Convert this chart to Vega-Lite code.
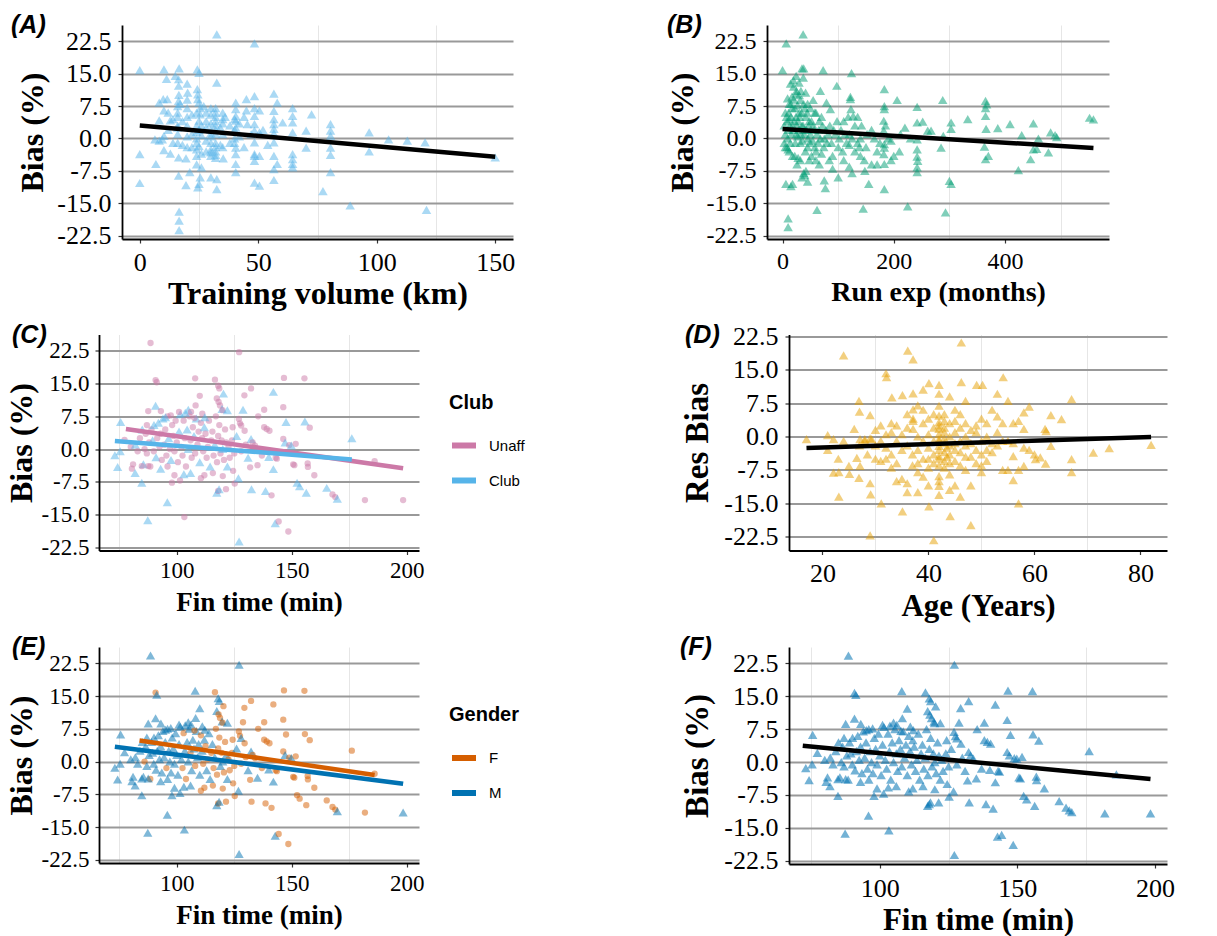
{
"$schema": "https://vega.github.io/schema/vega-lite/v6.json",
"background": "white",
"padding": {"left": 5, "top": 13, "right": 5, "bottom": 5},
"config": {
 "view": {"stroke": null},
 "font": "Liberation Serif",
 "axis": {"domainColor": "black", "domainWidth": 1.8, "tickColor": "#333333", "tickWidth": 1.2, "tickSize": 4, "labelColor": "black", "labelFont": "Liberation Serif", "titleFont": "Liberation Serif", "titleFontWeight": "bold", "titleColor": "black"},
 "title": {"font": "Liberation Sans", "fontStyle": "italic", "fontWeight": "bold", "fontSize": 25, "anchor": "start", "frame": "group", "color": "black", "offset": 0},
 "legend": {"titleFont": "Liberation Sans", "titleFontSize": 20, "titleFontWeight": "bold", "titleColor": "black", "labelFont": "Liberation Sans", "labelFontSize": 15, "labelColor": "black", "symbolType": "stroke", "symbolStrokeWidth": 6, "symbolSize": 576, "symbolOpacity": 1, "rowPadding": 8, "titlePadding": 18, "labelOffset": 10, "orient": "none"}
},
"datasets": {
"a": [{"x":32.5,"y":24.1},{"x":48.4,"y":22},{"x":0,"y":15.8},{"x":10.2,"y":16},{"x":16.6,"y":16.2},{"x":11.3,"y":13.8},{"x":15,"y":14.5},{"x":16.4,"y":13.7},{"x":24.3,"y":16},{"x":25,"y":15.2},{"x":32.5,"y":12.9},{"x":20,"y":12.7},{"x":20.2,"y":10.6},{"x":16.4,"y":12.2},{"x":16.5,"y":10.1},{"x":16.4,"y":8.7},{"x":24.3,"y":11.4},{"x":24.5,"y":10.2},{"x":24.5,"y":9.1},{"x":25,"y":8.3},{"x":25.5,"y":7},{"x":25.5,"y":5.6},{"x":25,"y":4.1},{"x":8.2,"y":8.3},{"x":9.9,"y":9.1},{"x":11.6,"y":9.1},{"x":10.2,"y":6.5},{"x":8.2,"y":4.2},{"x":12.9,"y":4.2},{"x":6.4,"y":-0.2},{"x":10.2,"y":0.6},{"x":9.5,"y":-0.2},{"x":8.2,"y":-0.5},{"x":10.2,"y":-2.7},{"x":12.9,"y":-3.5},{"x":0,"y":-3.6},{"x":6.8,"y":-5.9},{"x":0,"y":-10.3},{"x":16.4,"y":-4.4},{"x":16.4,"y":-8.6},{"x":16.6,"y":-16.9},{"x":16.6,"y":-19},{"x":16.6,"y":-21.2},{"x":19.5,"y":-4.6},{"x":21.1,"y":-7.8},{"x":19.5,"y":-10.8},{"x":24.5,"y":-11.3},{"x":25,"y":-10.5},{"x":25.5,"y":-9},{"x":26,"y":-6.7},{"x":30,"y":-9},{"x":32.5,"y":-9.4},{"x":32.5,"y":-11.7},{"x":35.2,"y":-4.6},{"x":40.5,"y":8.3},{"x":40.5,"y":6.8},{"x":40.5,"y":5.2},{"x":40.5,"y":4.1},{"x":40.5,"y":2.5},{"x":40.5,"y":-2.1},{"x":40.5,"y":-3.6},{"x":40.5,"y":-5.9},{"x":40.5,"y":-7.8},{"x":45,"y":9.1},{"x":48.4,"y":9.8},{"x":45,"y":6.5},{"x":48.4,"y":7},{"x":48.4,"y":5.2},{"x":48.4,"y":3.3},{"x":48.4,"y":1.8},{"x":48.4,"y":-0.9},{"x":48.4,"y":-3.6},{"x":48.4,"y":-4},{"x":48.4,"y":-5.2},{"x":45.4,"y":3.3},{"x":50.5,"y":6.5},{"x":50.5,"y":1.4},{"x":50.5,"y":-4},{"x":48.4,"y":-10.2},{"x":50.5,"y":-10.9},{"x":56.6,"y":10.4},{"x":58,"y":8.3},{"x":56.6,"y":6.4},{"x":56.6,"y":4.5},{"x":56.6,"y":3.3},{"x":56.6,"y":2.2},{"x":56.6,"y":1.2},{"x":56.6,"y":-0.9},{"x":56.6,"y":-4},{"x":56.6,"y":-7.1},{"x":56.6,"y":-9.6},{"x":58,"y":-5.9},{"x":60.3,"y":3.7},{"x":64.5,"y":7},{"x":64.5,"y":5.2},{"x":64.5,"y":3.7},{"x":64.5,"y":1.4},{"x":64.5,"y":-3.6},{"x":64.5,"y":-4.8},{"x":64.5,"y":-5.9},{"x":64.5,"y":-6.7},{"x":70.2,"y":1.8},{"x":72.5,"y":5.6},{"x":70.2,"y":-2.1},{"x":77.3,"y":-12.2},{"x":80.5,"y":3.3},{"x":80.5,"y":1.8},{"x":80.5,"y":0.6},{"x":80.5,"y":-2.1},{"x":80.5,"y":-3.8},{"x":80.5,"y":-7.8},{"x":88.8,"y":-15.5},{"x":96.8,"y":1.4},{"x":96.8,"y":-3},{"x":105,"y":-0.2},{"x":112.9,"y":-0.5},{"x":120.4,"y":-0.9},{"x":121,"y":-16.5},{"x":150,"y":-4.4},{"x":16,"y":5},{"x":16,"y":3},{"x":16,"y":1},{"x":16,"y":-1},{"x":16,"y":2.5},{"x":16,"y":6},{"x":16,"y":7.5},{"x":20,"y":7},{"x":20,"y":5},{"x":20,"y":3},{"x":20,"y":0.5},{"x":20,"y":-2},{"x":20,"y":9},{"x":24,"y":3},{"x":24,"y":1.5},{"x":24,"y":0},{"x":24,"y":-1},{"x":24,"y":-2.5},{"x":24,"y":-4},{"x":24,"y":6},{"x":25,"y":2},{"x":24,"y":-6},{"x":30,"y":5.5},{"x":30,"y":3.5},{"x":30,"y":2},{"x":30,"y":0.5},{"x":30,"y":-1},{"x":30,"y":-2.5},{"x":30,"y":-4},{"x":30,"y":7},{"x":32,"y":7},{"x":32,"y":5},{"x":32,"y":3},{"x":32,"y":1},{"x":32,"y":-1},{"x":32,"y":-3},{"x":32,"y":-4.5},{"x":32,"y":6},{"x":32,"y":4},{"x":32,"y":2},{"x":32,"y":-2},{"x":35,"y":6},{"x":35,"y":3.5},{"x":35,"y":1},{"x":35,"y":-2},{"x":35,"y":4.5},{"x":40,"y":4.5},{"x":40,"y":2},{"x":40,"y":0},{"x":40,"y":-1},{"x":28,"y":6},{"x":28,"y":2.5},{"x":28,"y":-3},{"x":28,"y":-0.5},{"x":12,"y":2},{"x":12,"y":6},{"x":14,"y":4.5},{"x":14,"y":-1},{"x":22,"y":5.5},{"x":22,"y":1},{"x":22,"y":-2},{"x":26,"y":3},{"x":26,"y":-3.5},{"x":34,"y":2.5},{"x":34,"y":-1.5},{"x":36,"y":5},{"x":38,"y":3},{"x":38,"y":-1},{"x":42,"y":0.5},{"x":42,"y":3.5},{"x":44,"y":-2},{"x":44,"y":5},{"x":47,"y":1},{"x":52,"y":2},{"x":54,"y":-1.5},{"x":28,"y":4},{"x":30,"y":-3.2},{"x":32,"y":-3.8},{"x":30,"y":1.2},{"x":27,"y":7.5},{"x":18,"y":4},{"x":18,"y":-1.5},{"x":17,"y":8},{"x":25,"y":-1.8},{"x":26,"y":0.8}],
"b": [{"x":37,"y":24.1},{"x":6.6,"y":22},{"x":0,"y":15.8},{"x":35,"y":16.2},{"x":38,"y":16.2},{"x":73,"y":15.8},{"x":124,"y":15.1},{"x":97.6,"y":12.2},{"x":14.3,"y":12.7},{"x":19.4,"y":13.5},{"x":24.5,"y":14.5},{"x":29.6,"y":12.9},{"x":37.3,"y":14.1},{"x":41.4,"y":10.6},{"x":68,"y":11},{"x":9,"y":9.3},{"x":17,"y":9.7},{"x":24.5,"y":10.4},{"x":32,"y":8.9},{"x":27,"y":7.7},{"x":55,"y":8.9},{"x":79,"y":8.3},{"x":86,"y":6.8},{"x":122,"y":9.6},{"x":122,"y":9.1},{"x":123,"y":6.8},{"x":127,"y":5.2},{"x":183,"y":11.4},{"x":183,"y":7.5},{"x":183,"y":6.8},{"x":182,"y":4.1},{"x":182,"y":1.8},{"x":183,"y":-1.3},{"x":183,"y":-2.1},{"x":182,"y":-3.6},{"x":183,"y":-5.9},{"x":183,"y":-11.7},{"x":206,"y":8.9},{"x":242,"y":7.3},{"x":242,"y":3.7},{"x":242,"y":-0.2},{"x":242,"y":-2.5},{"x":242,"y":-4.2},{"x":243,"y":-5.2},{"x":242,"y":-6.7},{"x":242,"y":-7.8},{"x":252,"y":3.9},{"x":261,"y":1.8},{"x":267,"y":1.8},{"x":288,"y":8.9},{"x":285,"y":-2.1},{"x":289,"y":0.6},{"x":303,"y":3.7},{"x":303,"y":2.2},{"x":300,"y":-9.8},{"x":303,"y":-10.5},{"x":293,"y":-17.1},{"x":225,"y":-15.7},{"x":333,"y":4.5},{"x":365,"y":8.7},{"x":367,"y":7.9},{"x":365,"y":7},{"x":365,"y":5.2},{"x":366,"y":2.2},{"x":363,"y":-1.9},{"x":365,"y":-4.8},{"x":370,"y":-4},{"x":387,"y":2.4},{"x":409,"y":3.3},{"x":424,"y":-7.3},{"x":430,"y":0.8},{"x":446,"y":-4.8},{"x":451,"y":3.5},{"x":451,"y":-2.5},{"x":457,"y":-2.4},{"x":460,"y":0},{"x":478,"y":-3.2},{"x":482,"y":1.4},{"x":490,"y":0.8},{"x":493,"y":0.3},{"x":552,"y":4.8},{"x":559,"y":4.4},{"x":5,"y":6},{"x":8,"y":4},{"x":10,"y":2},{"x":12,"y":8},{"x":15,"y":5},{"x":18,"y":3},{"x":20,"y":9},{"x":22,"y":7},{"x":25,"y":1},{"x":28,"y":4},{"x":30,"y":6},{"x":32,"y":-1},{"x":35,"y":3},{"x":38,"y":8},{"x":40,"y":2},{"x":42,"y":5},{"x":45,"y":-2},{"x":48,"y":4},{"x":50,"y":1},{"x":55,"y":3},{"x":60,"y":-3},{"x":65,"y":2},{"x":70,"y":5},{"x":75,"y":0},{"x":80,"y":-1},{"x":85,"y":3},{"x":90,"y":-4},{"x":95,"y":1},{"x":100,"y":-2},{"x":105,"y":2},{"x":110,"y":4},{"x":115,"y":-1},{"x":120,"y":1},{"x":130,"y":3},{"x":140,"y":0},{"x":150,"y":-2},{"x":160,"y":2},{"x":170,"y":-3},{"x":190,"y":0},{"x":200,"y":-4},{"x":8,"y":-2},{"x":10,"y":-2.5},{"x":15,"y":-11},{"x":18,"y":-10.5},{"x":35,"y":-9},{"x":38,"y":-8},{"x":40,"y":-8.5},{"x":42,"y":-7.5},{"x":45,"y":-10},{"x":6,"y":-10.5},{"x":5,"y":-2},{"x":12,"y":-3},{"x":22,"y":-4},{"x":28,"y":-4.5},{"x":48,"y":-5},{"x":60,"y":-5},{"x":70,"y":-3.5},{"x":75,"y":-9.7},{"x":77,"y":-11.5},{"x":62,"y":-16.5},{"x":145,"y":-16.2},{"x":10,"y":-18.5},{"x":10,"y":-20.5},{"x":100,"y":-9},{"x":120,"y":-6.5},{"x":125,"y":-8},{"x":147,"y":-5},{"x":148,"y":-7.5},{"x":155,"y":-10.5},{"x":130,"y":-3},{"x":160,"y":-6},{"x":3,"y":3},{"x":5,"y":1},{"x":7,"y":5},{"x":9,"y":0},{"x":11,"y":6},{"x":13,"y":3},{"x":14,"y":-1},{"x":16,"y":1},{"x":17,"y":7},{"x":19,"y":2},{"x":21,"y":4},{"x":23,"y":-1},{"x":24,"y":5},{"x":26,"y":3},{"x":27,"y":0.5},{"x":29,"y":2},{"x":31,"y":5},{"x":33,"y":1},{"x":34,"y":6},{"x":36,"y":-0.5},{"x":37,"y":3},{"x":39,"y":1},{"x":41,"y":-3},{"x":43,"y":2},{"x":44,"y":6},{"x":46,"y":0},{"x":47,"y":3},{"x":49,"y":-1},{"x":52,"y":4},{"x":54,"y":-0.5},{"x":57,"y":2},{"x":58,"y":6},{"x":62,"y":1},{"x":64,"y":-1},{"x":66,"y":4},{"x":68,"y":0},{"x":72,"y":3},{"x":74,"y":-2},{"x":78,"y":2},{"x":82,"y":1},{"x":88,"y":-1},{"x":92,"y":2},{"x":98,"y":4},{"x":102,"y":0},{"x":108,"y":-3},{"x":112,"y":1},{"x":118,"y":5},{"x":125,"y":0},{"x":135,"y":5},{"x":138,"y":-2},{"x":142,"y":3},{"x":152,"y":1},{"x":165,"y":0},{"x":175,"y":-1},{"x":185,"y":3},{"x":195,"y":-0.5},{"x":210,"y":-3},{"x":212,"y":1},{"x":230,"y":0},{"x":220,"y":2.5},{"x":30,"y":10},{"x":20,"y":12},{"x":25,"y":11},{"x":15,"y":8},{"x":33,"y":11},{"x":40,"y":7},{"x":50,"y":7},{"x":60,"y":6},{"x":45,"y":8},{"x":12,"y":4.5},{"x":3,"y":-1},{"x":18,"y":-4},{"x":26,"y":-6},{"x":32,"y":-5},{"x":52,"y":-4},{"x":58,"y":-2},{"x":66,"y":-6},{"x":84,"y":-5},{"x":90,"y":-7},{"x":110,"y":-5},{"x":140,"y":-4},{"x":170,"y":-6},{"x":195,"y":-5},{"x":135,"y":-1},{"x":120,"y":-1.5}],
"d": [{"x":17,"y":-0.6},{"x":21,"y":0.3},{"x":21,"y":-3},{"x":22.1,"y":-8.1},{"x":23.1,"y":-8},{"x":22.1,"y":-0.6},{"x":23.1,"y":-13.5},{"x":24,"y":18.2},{"x":25,"y":-6.6},{"x":25.1,"y":-8.4},{"x":27.1,"y":-6.6},{"x":26.9,"y":-9.3},{"x":26,"y":1.7},{"x":26.9,"y":8},{"x":27,"y":5.6},{"x":26.5,"y":-4.8},{"x":27.1,"y":-0.6},{"x":28,"y":-0.6},{"x":29,"y":-0.4},{"x":29.3,"y":-0.6},{"x":28.5,"y":-4},{"x":29,"y":4.8},{"x":29,"y":-10.5},{"x":29.1,"y":-13},{"x":29,"y":-22.2},{"x":31.1,"y":-15},{"x":32,"y":14.2},{"x":32.1,"y":13.3},{"x":33.1,"y":8.8},{"x":35.1,"y":9.3},{"x":35.1,"y":-16.8},{"x":36.1,"y":19.3},{"x":37.1,"y":17.3},{"x":37.1,"y":9.7},{"x":37.1,"y":6.1},{"x":37.1,"y":4},{"x":37.1,"y":3.5},{"x":37.1,"y":1.7},{"x":39,"y":10.5},{"x":40.1,"y":12},{"x":40.1,"y":-15.7},{"x":42,"y":11.6},{"x":42,"y":9.6},{"x":42,"y":6.9},{"x":42,"y":4.7},{"x":42,"y":3.2},{"x":42,"y":1.7},{"x":42,"y":-0.6},{"x":42,"y":-2.1},{"x":42,"y":-4.4},{"x":42,"y":-8.9},{"x":42,"y":-11.1},{"x":42,"y":-13.1},{"x":44.1,"y":-17.9},{"x":46.2,"y":21.1},{"x":46.2,"y":12.2},{"x":48,"y":-19.9},{"x":41,"y":-23.3},{"x":49.1,"y":11.6},{"x":50.2,"y":11.6},{"x":53,"y":9.6},{"x":54.1,"y":13.3},{"x":55,"y":8},{"x":57,"y":-15},{"x":59,"y":6.7},{"x":58,"y":5.4},{"x":58,"y":1.7},{"x":58,"y":-2.5},{"x":58,"y":-6.6},{"x":57,"y":3.5},{"x":56,"y":-4.4},{"x":56,"y":-9.8},{"x":60.2,"y":-5.1},{"x":61.1,"y":-4.7},{"x":62.1,"y":-6.1},{"x":62,"y":1.7},{"x":62.2,"y":1.2},{"x":63.1,"y":4.8},{"x":63.1,"y":-2.1},{"x":65.1,"y":3.9},{"x":67,"y":8.4},{"x":67,"y":-5.1},{"x":67,"y":-8},{"x":71.1,"y":-3.6},{"x":74.1,"y":-2.6},{"x":82,"y":-1.9},{"x":30,"y":1.5},{"x":30,"y":-2},{"x":31,"y":-1},{"x":31,"y":2.5},{"x":32,"y":-5},{"x":32,"y":0.5},{"x":32,"y":-2.5},{"x":33,"y":-4},{"x":33,"y":1},{"x":33,"y":3},{"x":34,"y":-1},{"x":34,"y":-6},{"x":34,"y":2.5},{"x":35,"y":0.5},{"x":35,"y":-3},{"x":35,"y":-9.5},{"x":36,"y":-2},{"x":36,"y":5},{"x":36,"y":-10.5},{"x":36,"y":-12.5},{"x":37,"y":-4},{"x":37,"y":-6.5},{"x":38,"y":0},{"x":38,"y":-3},{"x":38,"y":-8},{"x":38,"y":7},{"x":38,"y":-12.5},{"x":39,"y":-1},{"x":39,"y":-5},{"x":39,"y":3},{"x":39,"y":-9},{"x":40,"y":0.5},{"x":40,"y":-2.5},{"x":40,"y":-7},{"x":40,"y":4},{"x":40,"y":-11},{"x":41,"y":-1},{"x":41,"y":-4},{"x":41,"y":2},{"x":41,"y":-6},{"x":42,"y":0.5},{"x":42,"y":2.5},{"x":42,"y":-1},{"x":42,"y":-3},{"x":42,"y":-5},{"x":42,"y":-6.5},{"x":43,"y":3.5},{"x":43,"y":1},{"x":43,"y":-1.5},{"x":43,"y":-3.5},{"x":43,"y":-5.5},{"x":43,"y":-7},{"x":43,"y":5},{"x":43,"y":2},{"x":43,"y":-0.5},{"x":43.5,"y":-2.5},{"x":43.5,"y":-4.5},{"x":44,"y":0},{"x":44,"y":-2},{"x":44,"y":-4},{"x":44,"y":-6},{"x":44,"y":3},{"x":44,"y":-8.5},{"x":44,"y":-12},{"x":45,"y":1},{"x":45,"y":-3},{"x":45,"y":-5.5},{"x":45,"y":6},{"x":45,"y":3.5},{"x":45,"y":-11},{"x":46,"y":-1},{"x":46,"y":-3.5},{"x":46,"y":2},{"x":46,"y":5},{"x":46,"y":-6.5},{"x":46,"y":-13.5},{"x":47,"y":0},{"x":47,"y":-4.5},{"x":47,"y":8},{"x":47,"y":3},{"x":47,"y":-7.5},{"x":48,"y":-1.5},{"x":48,"y":1.5},{"x":48,"y":-4.5},{"x":48,"y":-11},{"x":49,"y":2.5},{"x":49,"y":-3},{"x":49,"y":-6},{"x":49,"y":1},{"x":50,"y":4},{"x":50,"y":-1},{"x":50,"y":-4},{"x":50,"y":-8},{"x":51,"y":0},{"x":51,"y":-3},{"x":51,"y":3},{"x":51,"y":-5.5},{"x":52,"y":-1.5},{"x":52,"y":6},{"x":52,"y":-3.5},{"x":53,"y":1},{"x":53,"y":-2},{"x":53,"y":4.5},{"x":54,"y":-1},{"x":54,"y":3},{"x":54,"y":-7.5},{"x":55,"y":-1},{"x":55,"y":-7.5},{"x":56,"y":3},{"x":56,"y":-1.5},{"x":57,"y":-7.5},{"x":59,"y":-3},{"x":60,"y":-4},{"x":34,"y":-10},{"x":38,"y":-6},{"x":39,"y":6},{"x":41,"y":5},{"x":44,"y":9},{"x":47,"y":-2},{"x":50,"y":-6.5},{"x":36,"y":2},{"x":40,"y":-5},{"x":45,"y":-1.5},{"x":42,"y":-10},{"x":33,"y":-7},{"x":31,"y":-5.5},{"x":28,"y":-1},{"x":27,"y":-2},{"x":30,"y":-5},{"x":24,"y":-1},{"x":23,"y":-5}],
"fin": [{"x":88.6,"y":24.3,"club":"Unaff","gender":"M"},{"x":127.1,"y":22.2,"club":"Unaff","gender":"M"},{"x":127.1,"y":-21.2,"club":"Club","gender":"M"},{"x":90.8,"y":15.8,"club":"Unaff","gender":"F"},{"x":91.3,"y":15.3,"club":"Unaff","gender":"M"},{"x":108,"y":16.2,"club":"Unaff","gender":"M"},{"x":116.6,"y":15.9,"club":"Unaff","gender":"F"},{"x":118,"y":14.5,"club":"Unaff","gender":"M"},{"x":118.5,"y":13.9,"club":"Unaff","gender":"M"},{"x":120.3,"y":12.7,"club":"Club","gender":"F"},{"x":132.3,"y":13.9,"club":"Unaff","gender":"F"},{"x":129.4,"y":12.3,"club":"Unaff","gender":"F"},{"x":142,"y":13.1,"club":"Club","gender":"F"},{"x":146.6,"y":16.3,"club":"Unaff","gender":"F"},{"x":155.5,"y":16.2,"club":"Unaff","gender":"F"},{"x":110,"y":12.2,"club":"Unaff","gender":"M"},{"x":108.2,"y":10,"club":"Unaff","gender":"M"},{"x":117.4,"y":11.6,"club":"Unaff","gender":"M"},{"x":118.2,"y":10.8,"club":"Unaff","gender":"F"},{"x":118.8,"y":10,"club":"Unaff","gender":"F"},{"x":119.7,"y":9.2,"club":"Club","gender":"M"},{"x":119.9,"y":8.9,"club":"Unaff","gender":"F"},{"x":87.6,"y":8.7,"club":"Unaff","gender":"M"},{"x":90.8,"y":9.9,"club":"Club","gender":"M"},{"x":122,"y":8.9,"club":"Club","gender":"M"},{"x":128.8,"y":9,"club":"Club","gender":"F"},{"x":138,"y":9,"club":"Unaff","gender":"F"},{"x":146.3,"y":9.6,"club":"Unaff","gender":"F"},{"x":135.4,"y":7.5,"club":"Unaff","gender":"F"},{"x":147.5,"y":6.2,"club":"Club","gender":"F"},{"x":155.7,"y":6.3,"club":"Club","gender":"F"},{"x":157.8,"y":4.9,"club":"Unaff","gender":"F"},{"x":127,"y":6.9,"club":"Unaff","gender":"F"},{"x":127.5,"y":5.9,"club":"Unaff","gender":"F"},{"x":128,"y":5.4,"club":"Unaff","gender":"M"},{"x":129.5,"y":4.2,"club":"Unaff","gender":"F"},{"x":124.3,"y":5,"club":"Unaff","gender":"F"},{"x":75.6,"y":6.2,"club":"Club","gender":"M"},{"x":77.3,"y":2.1,"club":"Unaff","gender":"M"},{"x":73.1,"y":-1.4,"club":"Club","gender":"M"},{"x":74.3,"y":-4.1,"club":"Club","gender":"M"},{"x":75.4,"y":-0.5,"club":"Club","gender":"M"},{"x":87.4,"y":-16.3,"club":"Club","gender":"M"},{"x":95.9,"y":-12.2,"club":"Club","gender":"M"},{"x":103.3,"y":-15.6,"club":"Unaff","gender":"M"},{"x":97.9,"y":-7.7,"club":"Unaff","gender":"M"},{"x":101.4,"y":-7.2,"club":"Unaff","gender":"M"},{"x":103.1,"y":-5.8,"club":"Club","gender":"M"},{"x":110.5,"y":-6.7,"club":"Unaff","gender":"F"},{"x":115.7,"y":-5.5,"club":"Unaff","gender":"F"},{"x":117.4,"y":-10,"club":"Club","gender":"M"},{"x":118,"y":-9.6,"club":"Unaff","gender":"F"},{"x":118.4,"y":-9.2,"club":"Club","gender":"M"},{"x":121.4,"y":-9.2,"club":"Unaff","gender":"F"},{"x":125.2,"y":-7.9,"club":"Unaff","gender":"F"},{"x":126.8,"y":-6.7,"club":"Club","gender":"M"},{"x":120,"y":-6.2,"club":"Unaff","gender":"F"},{"x":132.5,"y":-9.2,"club":"Club","gender":"F"},{"x":138.6,"y":-9.6,"club":"Club","gender":"F"},{"x":141.2,"y":-10.6,"club":"Unaff","gender":"F"},{"x":142.8,"y":-17,"club":"Club","gender":"M"},{"x":144.3,"y":-16.6,"club":"Unaff","gender":"F"},{"x":148.5,"y":-18.9,"club":"Unaff","gender":"F"},{"x":131.9,"y":-4.2,"club":"Unaff","gender":"F"},{"x":135.1,"y":-3.7,"club":"Unaff","gender":"M"},{"x":142,"y":-4.6,"club":"Club","gender":"M"},{"x":143.5,"y":-2.2,"club":"Unaff","gender":"F"},{"x":151.1,"y":-3.7,"club":"Unaff","gender":"F"},{"x":152.3,"y":-7.7,"club":"Club","gender":"F"},{"x":153.4,"y":-8.5,"club":"Club","gender":"F"},{"x":156.3,"y":-10,"club":"Club","gender":"F"},{"x":150.6,"y":-3.5,"club":"Unaff","gender":"F"},{"x":156.9,"y":-3.3,"club":"Unaff","gender":"F"},{"x":157,"y":-4.1,"club":"Unaff","gender":"F"},{"x":159.8,"y":-6,"club":"Unaff","gender":"F"},{"x":165.2,"y":-8.9,"club":"Club","gender":"F"},{"x":167.7,"y":-10.4,"club":"Unaff","gender":"F"},{"x":168.9,"y":-11,"club":"Unaff","gender":"F"},{"x":169.8,"y":-11.4,"club":"Club","gender":"M"},{"x":176.1,"y":2.5,"club":"Club","gender":"F"},{"x":181.8,"y":-11.7,"club":"Unaff","gender":"F"},{"x":186,"y":-2.8,"club":"Unaff","gender":"F"},{"x":198.4,"y":-11.7,"club":"Unaff","gender":"M"},{"x":146.3,"y":2.3,"club":"Unaff","gender":"F"},{"x":147.1,"y":1.5,"club":"Club","gender":"M"},{"x":148.9,"y":0.9,"club":"Unaff","gender":"F"},{"x":149.8,"y":0.8,"club":"Club","gender":"M"},{"x":151.7,"y":1.2,"club":"Unaff","gender":"F"},{"x":138,"y":5,"club":"Unaff","gender":"F"},{"x":139.1,"y":4.6,"club":"Unaff","gender":"F"},{"x":140.3,"y":4.2,"club":"Unaff","gender":"F"},{"x":132.3,"y":2.3,"club":"Club","gender":"M"},{"x":133,"y":1.5,"club":"Unaff","gender":"F"},{"x":134,"y":0.8,"club":"Unaff","gender":"F"},{"x":137,"y":-1.5,"club":"Unaff","gender":"F"},{"x":140,"y":-1.8,"club":"Club","gender":"M"},{"x":143,"y":-2,"club":"Unaff","gender":"F"},{"x":80,"y":0.5,"club":"Unaff","gender":"M"},{"x":81,"y":-3.5,"club":"Unaff","gender":"M"},{"x":82,"y":1,"club":"Club","gender":"M"},{"x":83,"y":-0.5,"club":"Unaff","gender":"M"},{"x":84,"y":2.5,"club":"Unaff","gender":"M"},{"x":85,"y":4.5,"club":"Club","gender":"M"},{"x":85.5,"y":-3.5,"club":"Club","gender":"M"},{"x":86,"y":0,"club":"Unaff","gender":"F"},{"x":86.5,"y":3.5,"club":"Unaff","gender":"M"},{"x":87,"y":-1,"club":"Unaff","gender":"M"},{"x":88,"y":1.5,"club":"Unaff","gender":"M"},{"x":88.5,"y":-4,"club":"Unaff","gender":"F"},{"x":89,"y":4.5,"club":"Unaff","gender":"M"},{"x":89.5,"y":2,"club":"Club","gender":"M"},{"x":90,"y":-0.5,"club":"Unaff","gender":"M"},{"x":90.1,"y":5.5,"club":"Club","gender":"M"},{"x":91,"y":-1.9,"club":"Club","gender":"M"},{"x":91.5,"y":2.5,"club":"Unaff","gender":"M"},{"x":92,"y":6,"club":"Club","gender":"M"},{"x":92.5,"y":0.5,"club":"Unaff","gender":"M"},{"x":93,"y":3.5,"club":"Unaff","gender":"M"},{"x":93.5,"y":-2.5,"club":"Unaff","gender":"M"},{"x":94,"y":7,"club":"Club","gender":"M"},{"x":94.5,"y":1,"club":"Unaff","gender":"M"},{"x":95,"y":4.5,"club":"Unaff","gender":"M"},{"x":95.5,"y":-1.5,"club":"Unaff","gender":"F"},{"x":96,"y":7.5,"club":"Unaff","gender":"M"},{"x":96.5,"y":2.5,"club":"Club","gender":"M"},{"x":97,"y":0,"club":"Unaff","gender":"M"},{"x":97.5,"y":-2.5,"club":"Club","gender":"M"},{"x":98,"y":5.5,"club":"Unaff","gender":"M"},{"x":98.5,"y":3,"club":"Unaff","gender":"M"},{"x":99,"y":-0.5,"club":"Unaff","gender":"M"},{"x":99.5,"y":6.5,"club":"Unaff","gender":"M"},{"x":100,"y":1.5,"club":"Unaff","gender":"M"},{"x":100.5,"y":-3,"club":"Unaff","gender":"M"},{"x":101,"y":4,"club":"Club","gender":"M"},{"x":101.5,"y":8,"club":"Club","gender":"M"},{"x":102,"y":0.5,"club":"Unaff","gender":"M"},{"x":102.5,"y":-1.5,"club":"Unaff","gender":"F"},{"x":103,"y":6.5,"club":"Unaff","gender":"F"},{"x":103.5,"y":2.5,"club":"Unaff","gender":"M"},{"x":104,"y":-4,"club":"Unaff","gender":"F"},{"x":104.5,"y":4.5,"club":"Club","gender":"M"},{"x":105,"y":0,"club":"Club","gender":"M"},{"x":105.5,"y":7.5,"club":"Unaff","gender":"M"},{"x":106,"y":2,"club":"Unaff","gender":"F"},{"x":106.5,"y":-2,"club":"Unaff","gender":"M"},{"x":107,"y":5,"club":"Unaff","gender":"M"},{"x":107.5,"y":3,"club":"Club","gender":"M"},{"x":108,"y":-1,"club":"Unaff","gender":"F"},{"x":108.5,"y":7,"club":"Club","gender":"M"},{"x":109,"y":1,"club":"Unaff","gender":"M"},{"x":109.5,"y":4,"club":"Unaff","gender":"M"},{"x":110,"y":-3,"club":"Club","gender":"M"},{"x":110.5,"y":6,"club":"Unaff","gender":"F"},{"x":111,"y":2.5,"club":"Unaff","gender":"M"},{"x":111.5,"y":-0.5,"club":"Unaff","gender":"F"},{"x":112,"y":5,"club":"Club","gender":"M"},{"x":112.5,"y":3.5,"club":"Unaff","gender":"F"},{"x":113,"y":-2,"club":"Unaff","gender":"M"},{"x":113.5,"y":0.5,"club":"Unaff","gender":"F"},{"x":114,"y":6.5,"club":"Unaff","gender":"M"},{"x":114.5,"y":-4,"club":"Club","gender":"M"},{"x":115,"y":2,"club":"Unaff","gender":"F"},{"x":115.5,"y":4,"club":"Unaff","gender":"M"},{"x":116,"y":-1.5,"club":"Unaff","gender":"F"},{"x":116.5,"y":1,"club":"Club","gender":"M"},{"x":117,"y":7.5,"club":"Unaff","gender":"F"},{"x":117.5,"y":-3,"club":"Unaff","gender":"F"},{"x":118,"y":3,"club":"Unaff","gender":"F"},{"x":118.5,"y":5.5,"club":"Unaff","gender":"F"},{"x":119,"y":-1,"club":"Unaff","gender":"M"},{"x":119.5,"y":2,"club":"Unaff","gender":"F"},{"x":120,"y":0,"club":"Club","gender":"M"},{"x":120.5,"y":-2.5,"club":"Unaff","gender":"F"},{"x":121,"y":4.5,"club":"Unaff","gender":"F"},{"x":121.5,"y":1.5,"club":"Unaff","gender":"M"},{"x":122,"y":-4,"club":"Club","gender":"M"},{"x":122.5,"y":0.5,"club":"Unaff","gender":"F"},{"x":123,"y":-2,"club":"Unaff","gender":"F"},{"x":124,"y":2,"club":"Unaff","gender":"F"},{"x":125,"y":-1,"club":"Unaff","gender":"F"},{"x":126,"y":3,"club":"Club","gender":"M"},{"x":128,"y":-0.5,"club":"Unaff","gender":"F"},{"x":130,"y":1,"club":"Unaff","gender":"F"},{"x":131,"y":-2,"club":"Club","gender":"M"},{"x":124.5,"y":-5,"club":"Unaff","gender":"F"},{"x":93,"y":-4.5,"club":"Club","gender":"M"},{"x":96,"y":-4,"club":"Unaff","gender":"M"},{"x":99,"y":-6,"club":"Unaff","gender":"M"},{"x":106,"y":-5.5,"club":"Club","gender":"M"},{"x":112,"y":-6,"club":"Unaff","gender":"F"},{"x":87,"y":5.5,"club":"Unaff","gender":"M"},{"x":101,"y":8.5,"club":"Unaff","gender":"M"},{"x":105,"y":9,"club":"Club","gender":"M"},{"x":80.5,"y":-4.5,"club":"Unaff","gender":"M"},{"x":93.1,"y":8.7,"club":"Unaff","gender":"M"},{"x":95.1,"y":7.3,"club":"Club","gender":"M"},{"x":97.4,"y":7.7,"club":"Unaff","gender":"M"},{"x":103.7,"y":8.3,"club":"Club","gender":"M"},{"x":106.2,"y":8.5,"club":"Unaff","gender":"M"},{"x":107.7,"y":7.1,"club":"Unaff","gender":"F"},{"x":111.1,"y":8.1,"club":"Unaff","gender":"M"},{"x":112.2,"y":7.3,"club":"Club","gender":"M"},{"x":81.9,"y":-5.5,"club":"Club","gender":"M"},{"x":84.8,"y":-7.7,"club":"Club","gender":"M"},{"x":84.8,"y":-3.9,"club":"Unaff","gender":"M"},{"x":87.6,"y":-3.9,"club":"Unaff","gender":"M"}],
"reg": [{"p":"A","x":0,"y":3.0},{"p":"A","x":150,"y":-4.2},{"p":"B","x":0,"y":2.2},{"p":"B","x":559,"y":-2.2},{"p":"D","x":17,"y":-2.6},{"p":"D","x":82,"y":-0.1},{"p":"F","x":72,"y":3.7},{"p":"F","x":198.4,"y":-3.85},{"p":"C","x":77.9,"y":4.6,"club":"Unaff"},{"p":"C","x":198.4,"y":-4.4,"club":"Unaff"},{"p":"C","x":73.1,"y":1.85,"club":"Club"},{"p":"C","x":176.1,"y":-2.4,"club":"Club"},{"p":"E","x":83.8,"y":4.8,"gender":"F"},{"p":"E","x":186,"y":-3.1,"gender":"F"},{"p":"E","x":73.1,"y":3.4,"gender":"M"},{"p":"E","x":198.4,"y":-5.1,"gender":"M"}]
},
"concat": [
 {"hconcat": [
  {"hconcat": [
   {"width": 1, "height": 1, "data": {"values": [{"v": 0}]}, "mark": {"type": "point", "opacity": 0}},
   {"width": 391, "height": 214,
    "title": {"text": "(A)", "dx": -111, "dy": 17},
    "encoding": {
     "x": {"field": "x", "type": "quantitative", "scale": {"domain": [-7.5, 157.5], "nice": false, "zero": false},
           "axis": {"title": "Training volume (km)", "values": [0,25,50,75,100,125,150], "labelExpr": "datum.value % 50 == 0 ? datum.label : ''", "tickOpacity": {"condition": {"test": "datum.value % 50 == 0", "value": 1}, "value": 0}, "grid": true, "gridColor": "#e6e6e6", "gridWidth": 1, "gridOpacity": {"condition": {"test": "datum.value % 50 != 0", "value": 1}, "value": 0}, "labelFontSize": 26, "titleFontSize": 32, "labelPadding": 6, "titlePadding": 3}},
     "y": {"field": "y", "type": "quantitative", "scale": {"domain": [-23.25, 26.25], "nice": false, "zero": false},
           "axis": {"title": "Bias (%)", "values": [-22.5,-15,-7.5,0,7.5,15,22.5], "format": ".1f", "labelExpr": "replace(datum.label, '\u2212', '-')", "grid": true, "gridColor": "#999999", "gridWidth": 1.8, "labelFontSize": 26, "titleFontSize": 32, "labelPadding": 7, "titlePadding": 7}}
    },
    "layer": [
     {"data": {"name": "a"}, "mark": {"type": "point", "shape": "triangle-up", "filled": true, "size": 90, "opacity": 0.5, "color": "#56B4E9", "strokeWidth": 0}},
     {"data": {"name": "reg"}, "transform": [{"filter": "datum.p == 'A'"}], "mark": {"type": "line", "color": "black", "strokeWidth": 4.5}}
    ]}
  ], "spacing": 22, "bounds": "flush"},
  {"width": 342, "height": 214,
   "title": {"text": "(B)", "dx": -100, "dy": 17},
   "encoding": {
    "x": {"field": "x", "type": "quantitative", "scale": {"domain": [-27.95, 586.95], "nice": false, "zero": false},
          "axis": {"title": "Run exp (months)", "values": [0,100,200,300,400,500], "labelExpr": "datum.value % 200 == 0 ? datum.label : ''", "tickOpacity": {"condition": {"test": "datum.value % 200 == 0", "value": 1}, "value": 0}, "grid": true, "gridColor": "#e6e6e6", "gridWidth": 1, "gridOpacity": {"condition": {"test": "datum.value % 200 != 0", "value": 1}, "value": 0}, "labelFontSize": 24, "titleFontSize": 28, "labelPadding": 6, "titlePadding": 5}},
    "y": {"field": "y", "type": "quantitative", "scale": {"domain": [-23.25, 26.25], "nice": false, "zero": false},
          "axis": {"title": "Bias (%)", "values": [-22.5,-15,-7.5,0,7.5,15,22.5], "format": ".1f", "labelExpr": "replace(datum.label, '\u2212', '-')", "grid": true, "gridColor": "#999999", "gridWidth": 1.8, "labelFontSize": 24, "titleFontSize": 32, "labelPadding": 7, "titlePadding": 7}}
   },
   "layer": [
    {"data": {"name": "b"}, "mark": {"type": "point", "shape": "triangle-up", "filled": true, "size": 90, "opacity": 0.5, "color": "#009E73", "strokeWidth": 0}},
    {"data": {"name": "reg"}, "transform": [{"filter": "datum.p == 'B'"}], "mark": {"type": "line", "color": "black", "strokeWidth": 4.5}}
   ]}
 ], "spacing": 668, "bounds": "flush"},
 {"hconcat": [
  {"width": 320, "height": 216,
   "title": {"text": "(C)", "dx": -87, "dy": 17},
   "encoding": {
    "x": {"field": "x", "type": "quantitative", "scale": {"domain": [66.2, 205.3], "nice": false, "zero": false},
          "axis": {"title": "Fin time (min)", "values": [75,100,125,150,175,200], "labelExpr": "datum.value % 50 == 0 ? datum.label : ''", "tickOpacity": {"condition": {"test": "datum.value % 50 == 0", "value": 1}, "value": 0}, "grid": true, "gridColor": "#e6e6e6", "gridWidth": 1, "gridOpacity": {"condition": {"test": "datum.value % 50 != 0", "value": 1}, "value": 0}, "labelFontSize": 23, "titleFontSize": 27, "labelPadding": 5, "titlePadding": 7}},
    "y": {"field": "y", "type": "quantitative", "scale": {"domain": [-23.25, 26.25], "nice": false, "zero": false},
          "axis": {"title": "Bias (%)", "values": [-22.5,-15,-7.5,0,7.5,15,22.5], "format": ".1f", "labelExpr": "replace(datum.label, '\u2212', '-')", "grid": true, "gridColor": "#999999", "gridWidth": 1.8, "labelFontSize": 23, "titleFontSize": 32, "labelPadding": 6, "titlePadding": 3}},
    "color": {"field": "club", "type": "nominal", "scale": {"domain": ["Unaff", "Club"], "range": ["#CC79A7", "#56B4E9"]}, "legend": {"title": "Club", "legendX": 350, "legendY": 58}}
   },
   "layer": [
    {"data": {"name": "fin"}, "mark": {"type": "point", "filled": true, "opacity": 0.5, "strokeWidth": 0},
     "encoding": {"shape": {"condition": {"test": "datum.club == 'Club'", "value": "triangle-up"}, "value": "circle"},
                  "size": {"condition": {"test": "datum.club == 'Club'", "value": 85}, "value": 40}}},
    {"data": {"name": "reg"}, "transform": [{"filter": "datum.p == 'C'"}], "mark": {"type": "line", "strokeWidth": 4.5}}
   ]},
  {"width": 378, "height": 216,
   "title": {"text": "(D)", "dx": -104, "dy": 29},
   "encoding": {
    "x": {"field": "x", "type": "quantitative", "scale": {"domain": [13.7, 85.0], "nice": false, "zero": false},
          "axis": {"title": "Age (Years)", "values": [20,30,40,50,60,70,80], "labelExpr": "datum.value % 20 == 0 ? datum.label : ''", "tickOpacity": {"condition": {"test": "datum.value % 20 == 0", "value": 1}, "value": 0}, "grid": true, "gridColor": "#e6e6e6", "gridWidth": 1, "gridOpacity": {"condition": {"test": "datum.value % 20 != 0", "value": 1}, "value": 0}, "labelFontSize": 26, "titleFontSize": 31, "labelPadding": 6, "titlePadding": 5}},
    "y": {"field": "y", "type": "quantitative", "scale": {"domain": [-25.6, 22.9], "nice": false, "zero": false},
          "axis": {"title": "Res Bias", "values": [-22.5,-15,-7.5,0,7.5,15,22.5], "format": ".1f", "labelExpr": "replace(datum.label, '\u2212', '-')", "grid": true, "gridColor": "#999999", "gridWidth": 1.8, "labelFontSize": 26, "titleFontSize": 33, "labelPadding": 7, "titlePadding": 9}}
   },
   "layer": [
    {"data": {"name": "d"}, "mark": {"type": "point", "shape": "triangle-up", "filled": true, "size": 90, "opacity": 0.5, "color": "#E69F00", "strokeWidth": 0}},
    {"data": {"name": "reg"}, "transform": [{"filter": "datum.p == 'D'"}], "mark": {"type": "line", "color": "black", "strokeWidth": 4.5}}
   ]}
 ], "spacing": 370, "bounds": "flush",
 "resolve": {"scale": {"color": "independent"}, "legend": {"color": "independent"}}},
 {"hconcat": [
  {"width": 320, "height": 216,
   "title": {"text": "(E)", "dx": -87, "dy": 17},
   "encoding": {
    "x": {"field": "x", "type": "quantitative", "scale": {"domain": [66.2, 205.3], "nice": false, "zero": false},
          "axis": {"title": "Fin time (min)", "values": [75,100,125,150,175,200], "labelExpr": "datum.value % 50 == 0 ? datum.label : ''", "tickOpacity": {"condition": {"test": "datum.value % 50 == 0", "value": 1}, "value": 0}, "grid": true, "gridColor": "#e6e6e6", "gridWidth": 1, "gridOpacity": {"condition": {"test": "datum.value % 50 != 0", "value": 1}, "value": 0}, "labelFontSize": 23, "titleFontSize": 27, "labelPadding": 5, "titlePadding": 7}},
    "y": {"field": "y", "type": "quantitative", "scale": {"domain": [-23.25, 26.25], "nice": false, "zero": false},
          "axis": {"title": "Bias (%)", "values": [-22.5,-15,-7.5,0,7.5,15,22.5], "format": ".1f", "labelExpr": "replace(datum.label, '\u2212', '-')", "grid": true, "gridColor": "#999999", "gridWidth": 1.8, "labelFontSize": 23, "titleFontSize": 32, "labelPadding": 6, "titlePadding": 3}},
    "color": {"field": "gender", "type": "nominal", "scale": {"domain": ["F", "M"], "range": ["#D55E00", "#0072B2"]}, "legend": {"title": "Gender", "legendX": 350, "legendY": 58}}
   },
   "layer": [
    {"data": {"name": "fin"}, "mark": {"type": "point", "filled": true, "opacity": 0.5, "strokeWidth": 0},
     "encoding": {"shape": {"condition": {"test": "datum.gender == 'M'", "value": "triangle-up"}, "value": "circle"},
                  "size": {"condition": {"test": "datum.gender == 'M'", "value": 85}, "value": 40}}},
    {"data": {"name": "reg"}, "transform": [{"filter": "datum.p == 'E'"}], "mark": {"type": "line", "strokeWidth": 4.5}}
   ]},
  {"width": 378, "height": 217,
   "title": {"text": "(F)", "dx": -109, "dy": 17},
   "encoding": {
    "x": {"field": "x", "type": "quantitative", "scale": {"domain": [67, 204.4], "nice": false, "zero": false},
          "axis": {"title": "Fin time (min)", "values": [75,100,125,150,175,200], "labelExpr": "datum.value % 50 == 0 ? datum.label : ''", "tickOpacity": {"condition": {"test": "datum.value % 50 == 0", "value": 1}, "value": 0}, "grid": true, "gridColor": "#e6e6e6", "gridWidth": 1, "gridOpacity": {"condition": {"test": "datum.value % 50 != 0", "value": 1}, "value": 0}, "labelFontSize": 26, "titleFontSize": 31, "labelPadding": 7, "titlePadding": 4}},
    "y": {"field": "y", "type": "quantitative", "scale": {"domain": [-23.25, 26.25], "nice": false, "zero": false},
          "axis": {"title": "Bias (%)", "values": [-22.5,-15,-7.5,0,7.5,15,22.5], "format": ".1f", "labelExpr": "replace(datum.label, '\u2212', '-')", "grid": true, "gridColor": "#999999", "gridWidth": 1.8, "labelFontSize": 26, "titleFontSize": 33, "labelPadding": 7, "titlePadding": 9}}
   },
   "layer": [
    {"data": {"name": "fin"}, "mark": {"type": "point", "shape": "triangle-up", "filled": true, "size": 90, "opacity": 0.55, "color": "#0072B2", "strokeWidth": 0}},
    {"data": {"name": "reg"}, "transform": [{"filter": "datum.p == 'F'"}], "mark": {"type": "line", "color": "black", "strokeWidth": 4.5}}
   ]}
 ], "spacing": 370, "bounds": "flush",
 "resolve": {"scale": {"color": "independent"}, "legend": {"color": "independent"}}}
],
"columns": 1,
"align": "none",
"spacing": 13.5,
"bounds": "full",
"resolve": {"scale": {"color": "independent"}, "legend": {"color": "independent"}}
}
